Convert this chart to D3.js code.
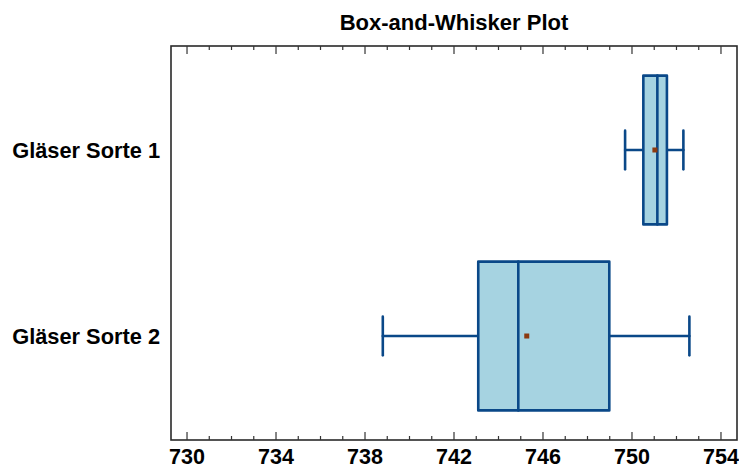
<!DOCTYPE html>
<html>
<head>
<meta charset="utf-8">
<script src="https://cdn.jsdelivr.net/npm/d3@7"></script>
<style>
  html, body { margin: 0; padding: 0; background: #fff; }
  svg { display: block; }
  text { font-family: "Liberation Sans", Arial, sans-serif; font-weight: bold; fill: #000; }
</style>
</head>
<body>
<svg id="chart" width="739" height="468"></svg>
<script>
// Five-number summaries (plus mean) for the two glass types
const categories  = ["Gläser Sorte 1", "Gläser Sorte 2"];
const whiskerLow  = [749.69, 738.80];
const q1          = [750.51, 743.09];
const median      = [751.14, 744.89];
const q3          = [751.57, 748.98];
const whiskerHigh = [752.31, 752.58];
const mean        = [751.03, 745.27];
const xTicks      = [730, 734, 738, 742, 746, 750, 754];
const minorTicks  = d3.range(730, 755, 1);

const svg = d3.select("#chart");
const frame = { left: 171, right: 737, top: 46, bottom: 440 };

const x = d3.scaleLinear().domain([729.28, 754.72]).range([frame.left, frame.right]);
const y = d3.scalePoint().domain(categories).range([frame.top, frame.bottom]).padding(0.559);
const step = y.step();
const boxH = step * 0.8;
const capH = step * 0.208;

const boxFill = "#a6d3e1", boxStroke = "#0a4888", meanColor = "#8b3a10";

// Title
svg.append("text")
  .attr("x", (frame.left + frame.right) / 2)
  .attr("y", 30)
  .attr("text-anchor", "middle")
  .style("font-size", "22px")
  .text("Box-and-Whisker Plot");

// Plot frame
svg.append("rect")
  .attr("x", frame.left).attr("y", frame.top)
  .attr("width", frame.right - frame.left).attr("height", frame.bottom - frame.top)
  .attr("fill", "none").attr("stroke", "#2a2a2a").attr("stroke-width", 1.6);

// Tick marks pointing inward on the bottom and top edges
const tickG = svg.append("g").attr("stroke", "#333").attr("stroke-width", 1.2);
minorTicks.forEach(v => {
  const len = xTicks.includes(v) ? 8 : 4;
  tickG.append("line").attr("x1", x(v)).attr("x2", x(v))
    .attr("y1", frame.bottom).attr("y2", frame.bottom - len);
  tickG.append("line").attr("x1", x(v)).attr("x2", x(v))
    .attr("y1", frame.top).attr("y2", frame.top + len);
});

// Bottom tick labels
svg.append("g").selectAll("text").data(xTicks).join("text")
  .attr("x", d => x(d))
  .attr("y", 464)
  .attr("text-anchor", "middle")
  .style("font-size", "21.5px")
  .text(d => d);

// Category labels
svg.append("g").selectAll("text").data(categories).join("text")
  .attr("x", 160)
  .attr("y", d => y(d))
  .attr("dy", "0.35em")
  .attr("text-anchor", "end")
  .style("font-size", "21.8px")
  .text(d => d);

// Boxes and whiskers
const groups = svg.append("g").selectAll("g").data(categories).join("g");

groups.each(function (cat, i) {
  const g = d3.select(this);
  const cy = y(cat);
  const lineStyle = s => s.attr("stroke", boxStroke).attr("stroke-width", 2.6).attr("stroke-linecap", "round");

  // whisker stems
  g.append("line").call(lineStyle)
    .attr("x1", x(whiskerLow[i])).attr("x2", x(q1[i])).attr("y1", cy).attr("y2", cy);
  g.append("line").call(lineStyle)
    .attr("x1", x(q3[i])).attr("x2", x(whiskerHigh[i])).attr("y1", cy).attr("y2", cy);
  // whisker caps
  [whiskerLow[i], whiskerHigh[i]].forEach(v => {
    g.append("line").call(lineStyle)
      .attr("x1", x(v)).attr("x2", x(v)).attr("y1", cy - capH / 2).attr("y2", cy + capH / 2);
  });
  // box
  g.append("rect")
    .attr("x", x(q1[i])).attr("y", cy - boxH / 2)
    .attr("width", x(q3[i]) - x(q1[i])).attr("height", boxH)
    .attr("fill", boxFill).attr("stroke", boxStroke).attr("stroke-width", 2.6)
    .attr("stroke-linejoin", "round");
  // median
  g.append("line").call(lineStyle)
    .attr("x1", x(median[i])).attr("x2", x(median[i]))
    .attr("y1", cy - boxH / 2).attr("y2", cy + boxH / 2);
  // mean marker
  g.append("rect")
    .attr("x", x(mean[i]) - 2.5).attr("y", cy - 2.5)
    .attr("width", 5).attr("height", 5)
    .attr("fill", meanColor);
});
</script>
</body>
</html>
